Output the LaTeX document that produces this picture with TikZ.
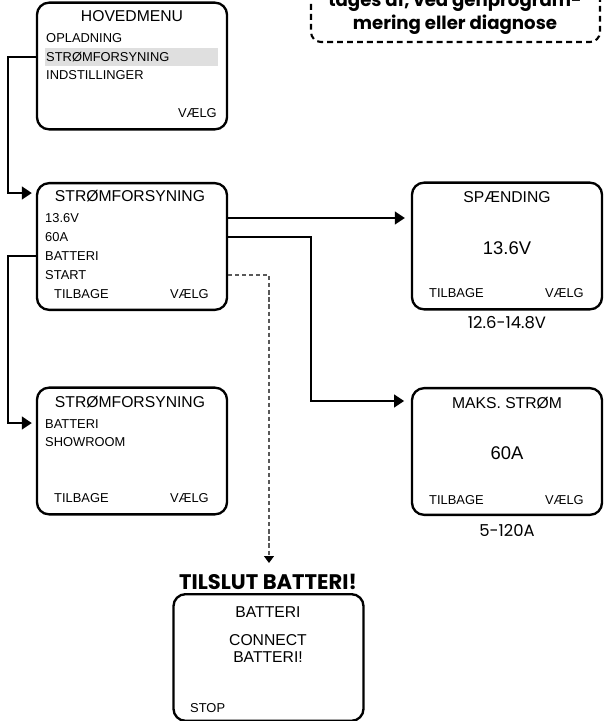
\documentclass[tikz,border=0pt]{standalone}
\usepackage{fontspec}
\setmainfont{Liberation Sans}
\newfontfamily\labelfont{Poppins}
\usetikzlibrary{positioning,arrows.meta}
\tikzset{
  screen/.style={draw,line width=2pt,rounded corners=0.36cm,minimum width=5.7cm,minimum height=3.8cm,inner sep=0pt},
  txt/.style={inner sep=0pt,font=\fontsize{11}{13}\selectfont},
  head/.style={inner sep=0pt,font=\fontsize{13.4}{15}\selectfont},
  big/.style={inner sep=0pt,font=\fontsize{15.7}{18}\selectfont},
  rangetxt/.style={inner sep=0pt,font=\labelfont\fontsize{14}{16}\selectfont},
  notetxt/.style={inner sep=0pt,font=\labelfont\bfseries\fontsize{15.5}{17}\selectfont},
  link/.style={line width=1.8pt,-{Triangle[length=0.3cm,width=0.38cm]}},
  hint/.style={line width=1pt,draw=gray!70!black,dash pattern=on 3.5pt off 2.5pt,-{Triangle[length=0.21cm,width=0.3cm,color=black]}},
}

\begin{document}
\begin{tikzpicture}[x=0.03cm,y=-0.03cm]
\useasboundingbox (0,0) rectangle (606,721);

% note, cut off at the top
\begin{scope}
  \clip (0,0) rectangle (606,721);
  \node[draw,line width=1.8pt,dash pattern=on 5pt off 3.5pt,rounded corners=0.3cm,minimum width=8.67cm,minimum height=3.06cm] (note) at (455.5,-9) {};
  \node[notetxt] (n1) at (455,2) {tages af, ved genprogram-};
  \node[notetxt] (n2) at (455,25) {mering eller diagnose};
\end{scope}

% hovedmenu
\node[screen] (hoved) at (132,66) {};
\fill[gray!25] (45,48) rectangle (218,66);
\node[head] (h0) at (132,16) {HOVEDMENU};
\node[txt,anchor=west] (h1) at (46,38) {OPLADNING};
\node[txt,anchor=west] (h2) at (46,57) {STRØMFORSYNING};
\node[txt,anchor=west] (h3) at (46,75) {INDSTILLINGER};
\node[txt,anchor=east] (h4) at (217,113) {VÆLG};

% strømforsyning
\node[screen] (strom) at (132,246.5) {};
\node[head] (s0) at (130,196) {STRØMFORSYNING};
\node[txt,anchor=west] (s1) at (45,218) {13.6V};
\node[txt,anchor=west] (s2) at (45,237) {60A};
\node[txt,anchor=west] (s3) at (45,256) {BATTERI};
\node[txt,anchor=west] (s4) at (45,275) {START};
\node[txt,anchor=west] (s5) at (54,294) {TILBAGE};
\node[txt,anchor=east] (s6) at (209,294) {VÆLG};

% strømforsyning, batteri
\node[screen] (strom2) at (132,451) {};
\node[head] (b0) at (130,402) {STRØMFORSYNING};
\node[txt,anchor=west] (b1) at (45,424) {BATTERI};
\node[txt,anchor=west] (b2) at (45,442) {SHOWROOM};
\node[txt,anchor=west] (b3) at (54,498) {TILBAGE};
\node[txt,anchor=east] (b4) at (209,498) {VÆLG};

% spænding
\node[screen] (spaend) at (507,246) {};
\node[head] (v0) at (507,197) {SPÆNDING};
\node[big] (v1) at (507,248) {13.6V};
\node[txt,anchor=west] (v2) at (429,293) {TILBAGE};
\node[txt,anchor=east] (v3) at (584,293) {VÆLG};
\node[rangetxt] (v4) at (507,323) {12.6-14.8V};

% maks. strøm
\node[screen] (maks) at (507,451.5) {};
\node[head] (m0) at (507,403) {MAKS. STRØM};
\node[big] (m1) at (507,453) {60A};
\node[txt,anchor=west] (m2) at (429,500) {TILBAGE};
\node[txt,anchor=east] (m3) at (584,500) {VÆLG};
\node[rangetxt] (m4) at (507,530) {5-120A};

% batteri
\node[screen] (batt) at (268.5,657.5) {};
\node[inner sep=0pt,font=\labelfont\bfseries\fontsize{18}{20}\selectfont] (tilslut) at (268,582) {TILSLUT BATTERI!};
\node[head] (t0) at (268,612) {BATTERI};
\node[head] (t1) at (268,640) {CONNECT};
\node[head] (t2) at (268,657) {BATTERI!};
\node[txt,anchor=west] (t3) at (190,708) {STOP};

% connectors
\coordinate (k1) at (8,193);
\coordinate (k2) at (311,401);
\coordinate (k3) at (8,423);
\coordinate (k4) at (269,563);
\draw[link] (hoved.west |- h2) -| (k1) -- ([xshift=-0.12cm]strom.west |- k1);
\draw[link] (strom.east |- s1) -- ([xshift=-0.18cm]spaend.west |- s1);
\draw[link] (strom.east |- s2) -| (k2) -- ([xshift=-0.2cm]maks.west |- k2);
\draw[link] (strom.west |- s3) -| (k3) -- ([xshift=-0.12cm]strom2.west |- k3);
\draw[hint] (strom.east |- s4) -| (k4);
\end{tikzpicture}
\end{document}
